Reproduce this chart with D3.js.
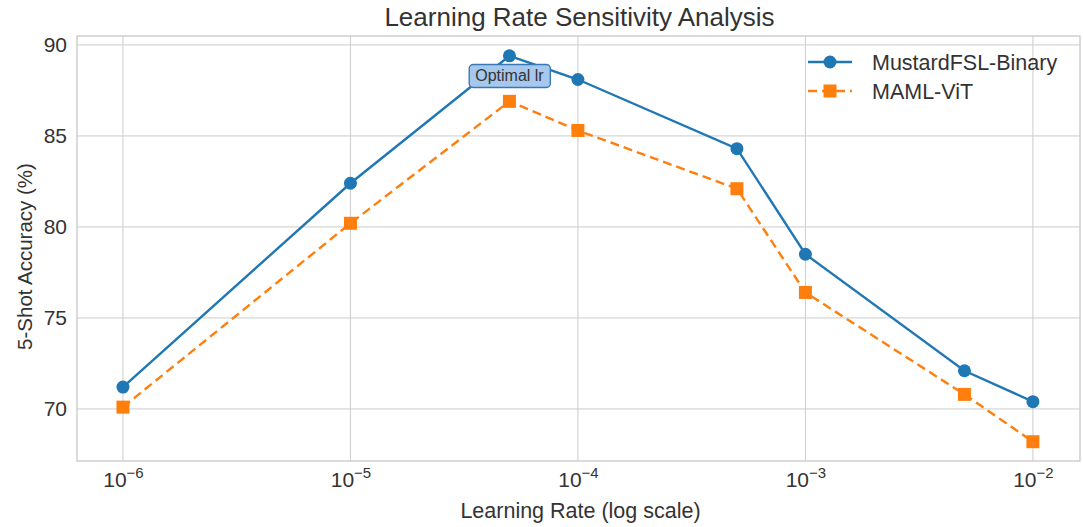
<!DOCTYPE html>
<html>
<head>
<meta charset="utf-8">
<script src="https://cdn.jsdelivr.net/npm/d3@7"></script>
<style>
  html, body { margin: 0; padding: 0; background: #fff; }
  svg { display: block; font-family: "Liberation Sans", Arial, sans-serif; }
</style>
</head>
<body>
<svg id="chart" width="1083" height="527"></svg>
<script>
// Learning rates tested (log-spaced sweep)
const learningRates = [1e-6, 1e-5, 5e-5, 1e-4, 5e-4, 1e-3, 5e-3, 1e-2];
// 5-shot accuracy (%) per method
const mustardAcc = [71.2, 82.4, 89.4, 88.1, 84.3, 78.5, 72.1, 70.4];
const mamlAcc    = [70.1, 80.2, 86.9, 85.3, 82.1, 76.4, 70.8, 68.2];
const seriesNames = ["MustardFSL-Binary", "MAML-ViT"];
const yTicks = [70, 75, 80, 85, 90];
const xTicks = [1e-6, 1e-5, 1e-4, 1e-3, 1e-2];
const optimalLr = 5e-5;

const svg = d3.select("#chart");
const plot = { left: 77, right: 1080, top: 36, bottom: 461 };
const textColor = "#333333";

const x = d3.scaleLog().domain([Math.pow(10, -6.202), Math.pow(10, -1.793)])
  .range([plot.left, plot.right]);
const y = d3.scaleLinear().domain([67.14, 90.49]).range([plot.bottom, plot.top]);

// grid
const grid = svg.append("g");
xTicks.forEach(t => grid.append("line")
  .attr("x1", x(t)).attr("x2", x(t)).attr("y1", plot.top).attr("y2", plot.bottom)
  .attr("stroke", "#cccccc").attr("stroke-width", 1));
yTicks.forEach(t => grid.append("line")
  .attr("x1", plot.left).attr("x2", plot.right).attr("y1", y(t)).attr("y2", y(t))
  .attr("stroke", "#cccccc").attr("stroke-width", 1));

// frame
svg.append("rect").attr("x", plot.left).attr("y", plot.top)
  .attr("width", plot.right - plot.left).attr("height", plot.bottom - plot.top)
  .attr("fill", "none").attr("stroke", "#c8c8c8").attr("stroke-width", 1.3);

// y tick labels
const yAxis = d3.axisLeft(y).tickValues(yTicks).tickSize(0).tickPadding(10);
const gy = svg.append("g").attr("transform", `translate(${plot.left},0)`).call(yAxis);
gy.select(".domain").remove();
gy.selectAll("text").attr("font-size", 21).attr("fill", textColor)
  .attr("font-family", "Liberation Sans, Arial, sans-serif");

// x tick labels as 10^n
const xAxis = d3.axisBottom(x).tickValues(xTicks).tickSize(0).tickFormat(() => "");
const gx = svg.append("g").attr("transform", `translate(0,${plot.bottom})`).call(xAxis);
gx.select(".domain").remove();
gx.selectAll(".tick").each(function(d) {
  const t = d3.select(this).append("text")
    .attr("y", 26).attr("text-anchor", "middle")
    .attr("fill", textColor).attr("font-size", 21);
  t.append("tspan").text("10");
  t.append("tspan").attr("dy", -9).attr("font-size", 15)
    .text("\u2212" + Math.round(-Math.log10(d)));
});

// axis titles
svg.append("text").attr("x", (plot.left + plot.right) / 2 + 2).attr("y", 518)
  .attr("text-anchor", "middle").attr("font-size", 21.5).attr("fill", textColor)
  .text("Learning Rate (log scale)");
svg.append("text").attr("transform", `translate(32,${(plot.top + plot.bottom) / 2 + 8}) rotate(-90)`)
  .attr("text-anchor", "middle").attr("font-size", 20.5).attr("fill", textColor)
  .text("5-Shot Accuracy (%)");
svg.append("text").attr("x", (plot.left + plot.right) / 2 + 1).attr("y", 26)
  .attr("text-anchor", "middle").attr("font-size", 26).attr("fill", textColor)
  .text("Learning Rate Sensitivity Analysis");

const blue = "#1f77b4", orange = "#ff7f0e";
const line = d3.line().x(d => x(d[0])).y(d => y(d[1]));
const mustardPts = learningRates.map((lr, i) => [lr, mustardAcc[i]]);
const mamlPts = learningRates.map((lr, i) => [lr, mamlAcc[i]]);

// MustardFSL-Binary
svg.append("path").datum(mustardPts).attr("d", line)
  .attr("fill", "none").attr("stroke", blue).attr("stroke-width", 2.4);
svg.append("g").selectAll("circle").data(mustardPts).join("circle")
  .attr("cx", d => x(d[0])).attr("cy", d => y(d[1])).attr("r", 6.5).attr("fill", blue);

// MAML-ViT
svg.append("path").datum(mamlPts).attr("d", line)
  .attr("fill", "none").attr("stroke", orange).attr("stroke-width", 2.4)
  .attr("stroke-dasharray", "9,5");
svg.append("g").selectAll("rect").data(mamlPts).join("rect")
  .attr("x", d => x(d[0]) - 6.5).attr("y", d => y(d[1]) - 6.5)
  .attr("width", 13).attr("height", 13).attr("fill", orange);

// annotation at the best learning rate
const ax = x(optimalLr), ay = y(88.3);
const ann = svg.append("g").attr("transform", `translate(${ax},${ay})`);
const annText = ann.append("text").attr("text-anchor", "middle").attr("dy", "0.35em")
  .attr("font-size", 16).attr("fill", textColor).text("Optimal lr");
const bb = annText.node().getBBox();
ann.insert("rect", "text")
  .attr("x", bb.x - 6).attr("y", bb.y - 3).attr("width", bb.width + 12).attr("height", bb.height + 6)
  .attr("rx", 4).attr("fill", "#a6c8ec").attr("stroke", "#3a78b5").attr("stroke-width", 1.4);

// legend
const legend = svg.append("g").attr("transform", "translate(808,62)");
[[blue, null, "circle"], [orange, "9,5", "square"]].forEach((s, i) => {
  const g = legend.append("g").attr("transform", `translate(0,${i * 29})`);
  g.append("line").attr("x1", 0).attr("x2", 44).attr("y1", 0).attr("y2", 0)
    .attr("stroke", s[0]).attr("stroke-width", 2.4).attr("stroke-dasharray", s[1]);
  if (s[2] === "circle") g.append("circle").attr("cx", 22).attr("cy", 0).attr("r", 6.5).attr("fill", s[0]);
  else g.append("rect").attr("x", 15.5).attr("y", -6.5).attr("width", 13).attr("height", 13).attr("fill", s[0]);
  g.append("text").attr("x", 64).attr("y", 0).attr("dy", "0.35em")
    .attr("font-size", 21.5).attr("fill", textColor).text(seriesNames[i]);
});
</script>
</body>
</html>
